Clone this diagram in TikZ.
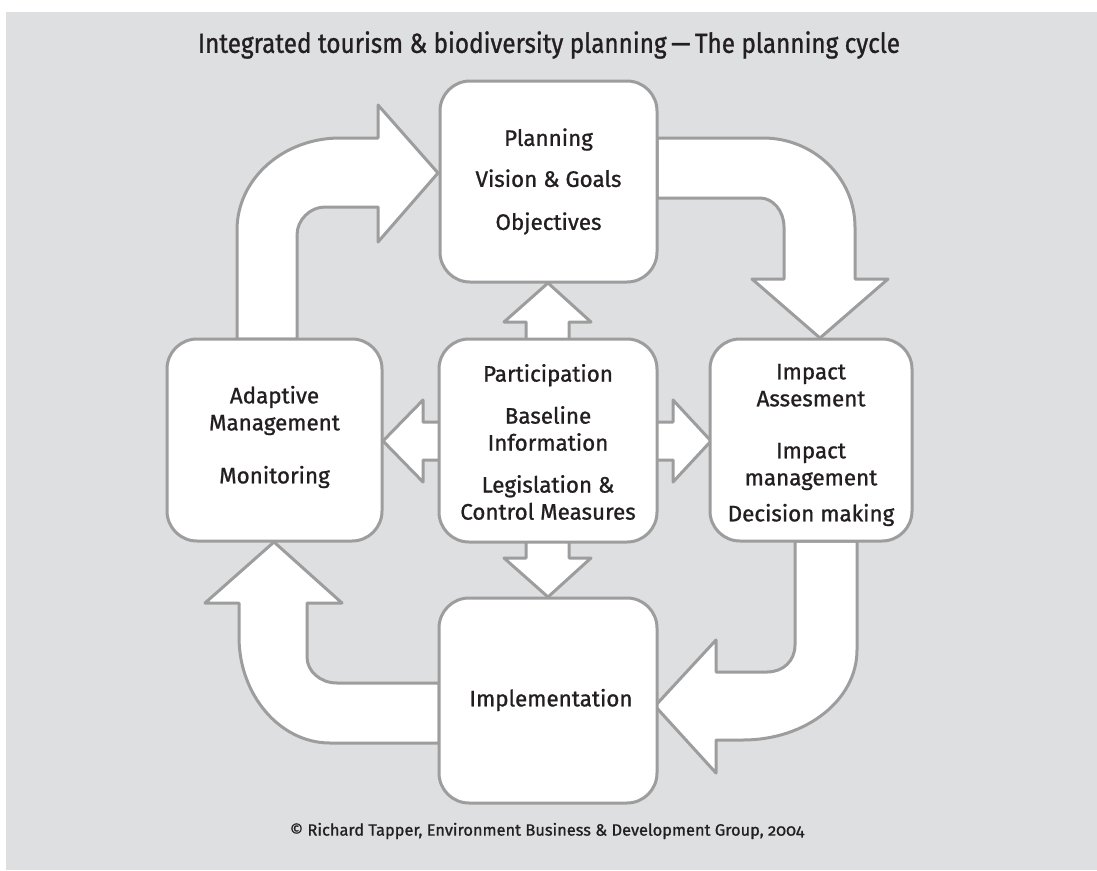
\documentclass[tikz,border=0pt]{standalone}
\usepackage{fontspec}
\setmainfont{Fira Sans}[Numbers=OldStyle, FakeBold=1.0]
\definecolor{panel}{HTML}{DEDFE1}
\definecolor{edge}{HTML}{9D9D9D}
\definecolor{ink}{HTML}{231F20}
\begin{document}
\begin{tikzpicture}[x=1pt,y=-1pt,
  block/.style={draw=edge, line width=3pt, fill=white, line join=round},
  stage/.style={block, rounded corners=30pt, inner sep=0pt},
  label/.style={align=center, text=ink, inner sep=0pt, font=\fontsize{22.4}{27}\selectfont},
]
\useasboundingbox (0,0) rectangle (1097,870);
\fill[white] (0,0) rectangle (1097,870);
\fill[panel] (6,12) rectangle (1097,870);

% title and credit line
\node[text=ink, font=\fontsize{27.6}{32}\selectfont\addfontfeatures{FakeStretch=0.88}]
  (title) at (549,45) {Integrated tourism \& biodiversity planning\,---\,The planning cycle};
\node[text=ink, font=\fontsize{16.4}{20}\selectfont] (credit) at (547,831)
  {\textcopyright\ Richard Tapper, Environment Business \& Development Group, 2004};

% curved block arrows of the cycle
\path[block] (237,339) -- (237,230) .. controls (237,179) and (283,138) .. (340,138)
  -- (378,138) -- (378,105) -- (438,173) -- (378,242) -- (378,207) -- (325,207)
  .. controls (310,207) and (297,220) .. (297,235) -- (297,339) -- cycle;
\path[block] (657,138) -- (763,138) .. controls (814,138) and (855,178) .. (855,227)
  -- (855,279) -- (888,279) -- (820,338) -- (752,279) -- (784,279) -- (784,227)
  .. controls (784,211) and (773,198) .. (760,198) -- (657,198) -- cycle;
\path[block] (795,541) -- (795,645) .. controls (795,661) and (783,672) .. (767,672)
  -- (716,672) -- (716,640) -- (655,706) -- (716,773) -- (716,740) -- (743,740)
  .. controls (806,740) and (857,700) .. (857,650) -- (857,541) -- cycle;
\path[block] (439,683) -- (337,683) .. controls (320,683) and (307,671) .. (307,657)
  -- (307,603) -- (342,603) -- (274,542) -- (205,603) -- (239,603) -- (239,637)
  .. controls (239,695) and (280,743) .. (330,743) -- (439,743) -- cycle;

% double-headed links from the central box
\path[block] (526,345) -- (526,322) -- (504,322) -- (548,283) -- (591,322) -- (569,322) -- (569,345) -- cycle;
\path[block] (526,536) -- (526,558) -- (504,558) -- (548,597) -- (591,558) -- (569,558) -- (569,536) -- cycle;
\path[block] (445,422) -- (423,422) -- (423,400) -- (383,441) -- (423,482) -- (423,460) -- (445,460) -- cycle;
\path[block] (651,422) -- (673,422) -- (673,400) -- (711,441) -- (673,482) -- (673,460) -- (651,460) -- cycle;

% stage boxes
\node[stage, minimum width=217pt, minimum height=201pt] (plan) at (548.5,181.5) {};
\node[stage, minimum width=215pt, minimum height=202pt] (adapt) at (274.5,440) {};
\node[stage, minimum width=218pt, minimum height=203pt] (core) at (548,440.5) {};
\node[stage, minimum width=202pt, minimum height=202pt] (impact) at (811,440) {};
\node[stage, minimum width=218pt, minimum height=205pt] (impl) at (548,700.5) {};

% box texts
\node[label] (plantext) at (548.5,181.5)
  {Planning\\[14pt]Vision \& Goals\\[16pt]Objectives};
\node[label] (adapttext) at (274.5,437)
  {Adaptive\\Management\\[26pt]Monitoring};
\node[label] (coretext) at (548,442)
  {Participation\\[15pt]Baseline\\Information\\[15pt]Legislation \&\\Control Measures};
\node[label] (impacttext) at (811,445)
  {Impact\\Assesment\\[25pt]Impact\\management\\[9pt]Decision making};
\node[label] (impltext) at (551,700) {Implementation};
\end{tikzpicture}
\end{document}
